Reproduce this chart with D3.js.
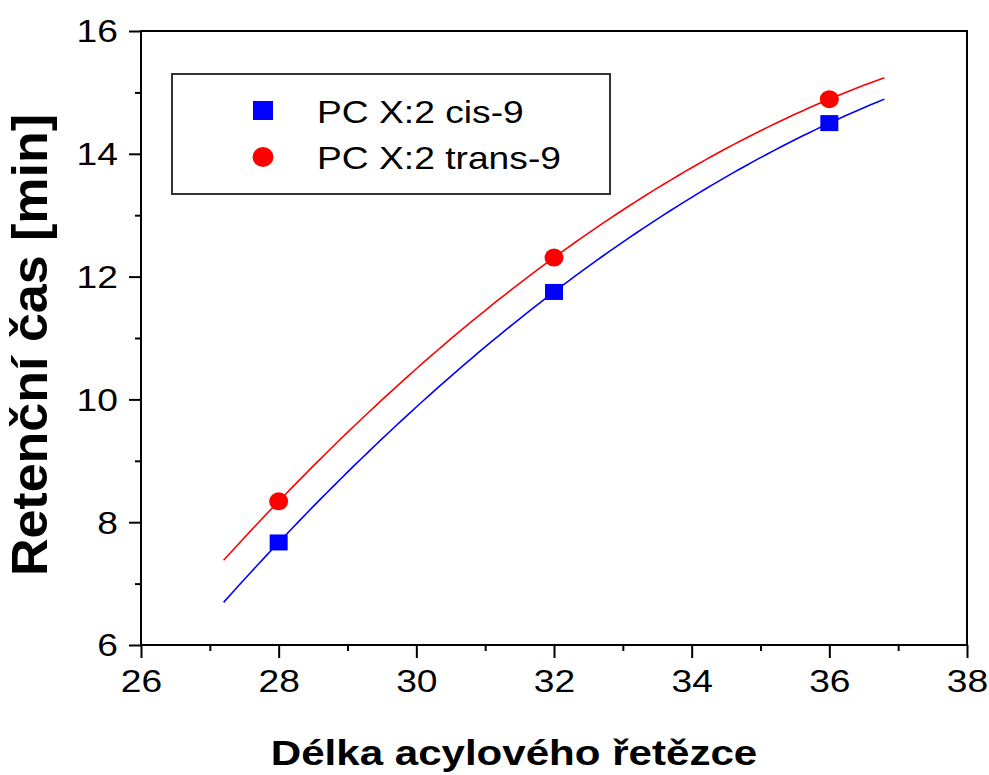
<!DOCTYPE html>
<html>
<head>
<meta charset="utf-8">
<script src="https://cdn.jsdelivr.net/npm/d3@7"></script>
<style>
  body { margin: 0; background: #fff; }
  text { font-family: Arial, "Liberation Sans", sans-serif; fill: #000; }
</style>
</head>
<body>
<svg></svg>
<script>
// data
const chainLength = [28, 32, 36];
const cisValues = [7.67, 11.75, 14.50];
const transValues = [8.34, 12.31, 14.89];
const seriesNames = ["PC X:2 cis-9", "PC X:2 trans-9"];
const xTicks = [26, 28, 30, 32, 34, 36, 38];
const yTicks = [6, 8, 10, 12, 14, 16];
const fitRange = [27.2, 36.8];

const w = 989;
const h = 775;
// plot box in pixels
const margin = { top: 31, right: 22, bottom: 130, left: 141 };
const chartW = w - margin.left - margin.right;
const chartH = h - margin.top - margin.bottom;
const stretch = 1.22; // the text in the original looks widened

const svg = d3.select("svg").attr("width", w).attr("height", h);

const chart = svg
  .append("g")
  .attr("transform", `translate(${margin.left}, ${margin.top})`);

const xScale = d3.scaleLinear().domain([26, 38]).range([0, chartW]);
const yScale = d3.scaleLinear().domain([6, 16]).range([chartH, 0]);

// minor ticks (odd values), no labels
chart
  .append("g")
  .attr("class", "minor")
  .attr("transform", `translate(0, ${chartH})`)
  .call(d3.axisBottom(xScale).tickValues(d3.range(27, 38, 2)).tickSize(6).tickFormat(""));
chart
  .append("g")
  .attr("class", "minor")
  .call(d3.axisLeft(yScale).tickValues(d3.range(7, 16, 2)).tickSize(6).tickFormat(""));

// X axis
const xAxis = chart
  .append("g")
  .attr("transform", `translate(0, ${chartH})`)
  .call(d3.axisBottom(xScale).tickValues(xTicks).tickSize(13).tickFormat(d3.format("d")));
xAxis.selectAll("text")
  .attr("y", 25)
  .attr("dy", "0.71em")
  .attr("font-size", 30.5)
  .attr("transform", `scale(${stretch},1)`);

// Y axis
const yAxis = chart
  .append("g")
  .call(d3.axisLeft(yScale).tickValues(yTicks).tickSize(12).tickFormat(d3.format("d")));
yAxis.selectAll("text")
  .attr("x", -23 / stretch)
  .attr("dy", "0.36em")
  .attr("font-size", 30.5)
  .attr("transform", `scale(${stretch},1)`);

chart.selectAll(".domain").attr("d", null);
chart.selectAll(".tick line").attr("stroke-width", 2);

// frame round the plot
chart
  .append("rect")
  .attr("x", 0)
  .attr("y", 0)
  .attr("width", chartW)
  .attr("height", chartH)
  .attr("fill", "none")
  .attr("stroke", "#000")
  .attr("stroke-width", 2);

// quadratic fit through the points (Lagrange form, 3 points)
function quadFit(xs, ys) {
  return x => {
    let s = 0;
    for (let i = 0; i < 3; i++) {
      let p = ys[i];
      for (let j = 0; j < 3; j++) {
        if (j !== i) p *= (x - xs[j]) / (xs[i] - xs[j]);
      }
      s += p;
    }
    return s;
  };
}

const line = d3.line().x(d => xScale(d[0])).y(d => yScale(d[1]));
const fitX = d3.range(fitRange[0], fitRange[1] + 0.001, 0.1);

const series = [
  { name: seriesNames[0], values: cisValues, color: "#0000ff", shape: "square" },
  { name: seriesNames[1], values: transValues, color: "#ff0000", shape: "circle" }
];

series.forEach(s => {
  const f = quadFit(chainLength, s.values);
  chart
    .append("path")
    .datum(fitX.map(x => [x, f(x)]))
    .attr("d", line)
    .attr("fill", "none")
    .attr("stroke", s.color)
    .attr("stroke-width", 1.6);
});

// markers
series.forEach(s => {
  const pts = chainLength.map((x, i) => [x, s.values[i]]);
  if (s.shape === "square") {
    chart
      .selectAll()
      .data(pts)
      .enter()
      .append("rect")
      .attr("x", d => xScale(d[0]) - 9)
      .attr("y", d => yScale(d[1]) - 8)
      .attr("width", 18)
      .attr("height", 16)
      .attr("fill", s.color);
  } else {
    chart
      .selectAll()
      .data(pts)
      .enter()
      .append("ellipse")
      .attr("cx", d => xScale(d[0]))
      .attr("cy", d => yScale(d[1]))
      .attr("rx", 9.5)
      .attr("ry", 9)
      .attr("fill", s.color);
  }
});

// legend
const legend = svg.append("g").attr("transform", "translate(172, 74)");
legend
  .append("rect")
  .attr("width", 438)
  .attr("height", 120)
  .attr("fill", "#fff")
  .attr("stroke", "#333")
  .attr("stroke-width", 2);

series.forEach((s, i) => {
  const cy = 37 + i * 46;
  if (s.shape === "square") {
    legend.append("rect")
      .attr("x", 81).attr("y", cy - 10)
      .attr("width", 20).attr("height", 19)
      .attr("fill", s.color);
  } else {
    legend.append("ellipse")
      .attr("cx", 91).attr("cy", cy)
      .attr("rx", 10.5).attr("ry", 10)
      .attr("fill", s.color);
  }
  legend.append("text")
    .attr("x", 145 / stretch)
    .attr("y", cy + 12)
    .attr("font-size", 30.5)
    .attr("transform", `scale(${stretch},1)`)
    .text(s.name);
});

// Add title X
svg
  .append("text")
  .attr("text-anchor", "middle")
  .attr("font-size", 34.5)
  .attr("font-weight", "bold")
  .attr("transform", `translate(514, 765) scale(${stretch},1)`)
  .text("Délka acylového řetězce");

// Add title Y
svg
  .append("text")
  .attr("text-anchor", "middle")
  .attr("font-size", 52)
  .attr("font-weight", "bold")
  .attr("transform", "translate(47, 345) scale(0.95,1) rotate(-90)")
  .text("Retenční čas [min]");
</script>
</body>
</html>
